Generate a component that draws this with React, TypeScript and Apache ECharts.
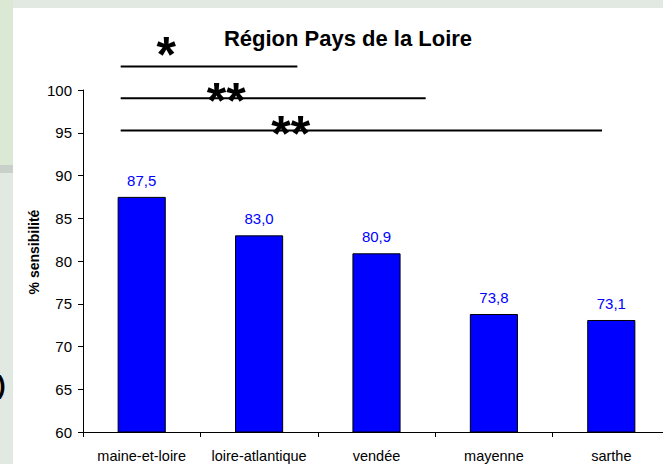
import React, { useEffect, useRef } from "react";
import * as echarts from "echarts";

const categories = ["maine-et-loire", "loire-atlantique", "vendée", "mayenne", "sarthe"];
const sensibilite = [87.5, 83.0, 80.9, 73.8, 73.1];

const yTicks = { min: 60, max: 100, interval: 5 };

// significance brackets (positions in category-band units relative to first category centre)
const sigLevel = [102.74, 99.04, 95.25];
const sigStart = [-0.179, -0.179, -0.179];
const sigEnd = [1.326, 2.419, 3.921];
const sigLabel = ["*", "**", "**"];
const sigLabelPos = [0.209, 0.72, 1.269];
const sigLabelLevel = [104.1, 98.7, 94.85];

const fmt = (v: number) => v.toFixed(1).replace(".", ",");

export default function App() {
  const ref = useRef<HTMLDivElement>(null);
  useEffect(() => {
    if (!ref.current) return;
    const chart = echarts.init(ref.current, null, { renderer: "svg" });
    const font = "'Liberation Sans', Arial, sans-serif";
    chart.setOption({
      animation: false,
      backgroundColor: "#e2e9e2",
      textStyle: { fontFamily: font },
      graphic: [
        { type: "rect", z: -10, shape: { x: 0, y: 0, width: 13, height: 165 }, style: { fill: "#dbe8d3" } },
        { type: "rect", z: -10, shape: { x: 0, y: 165, width: 13, height: 8 }, style: { fill: "#c9cfc9" } },
        { type: "rect", z: -10, shape: { x: 13, y: 8, width: 650, height: 456 }, style: { fill: "#ffffff" } },
        { type: "text", z: 10, x: -3, y: 385, style: { text: ")", font: `bold 26px ${font}`, fill: "#000", textVerticalAlign: "middle" } },
        {
          type: "text", z: 10, x: 348, y: 38,
          style: { text: "Région Pays de la Loire", font: `bold 22px ${font}`, fill: "#000", textAlign: "center", textVerticalAlign: "middle" },
        },
        {
          type: "text", z: 10, x: 34, y: 252, rotation: Math.PI / 2,
          style: { text: "% sensibilité", font: `bold 14px ${font}`, fill: "#000", textAlign: "center", textVerticalAlign: "middle" },
        },
      ],
      grid: { left: 83, width: 587, top: 90, height: 342, containLabel: false, outerBoundsMode: "none" },
      xAxis: {
        type: "category",
        data: categories,
        boundaryGap: true,
        axisLine: { show: true, lineStyle: { color: "#000", width: 1 } },
        axisTick: { show: true, alignWithLabel: false, length: 5, lineStyle: { color: "#000" } },
        axisLabel: { color: "#000", fontSize: 14.5, fontFamily: font, margin: 16, interval: 0 },
        splitLine: { show: false },
      },
      yAxis: {
        type: "value",
        min: yTicks.min,
        max: yTicks.max,
        interval: yTicks.interval,
        axisLine: { show: true, lineStyle: { color: "#000", width: 1 } },
        axisTick: { show: true, length: 5, inside: false, lineStyle: { color: "#000" } },
        axisLabel: { color: "#000", fontSize: 15, fontFamily: font, margin: 11 },
        splitLine: { show: false },
      },
      series: [
        {
          type: "bar",
          data: sensibilite,
          barWidth: "41%",
          itemStyle: { color: "#0000ff", borderColor: "#000", borderWidth: 1 },
          label: {
            show: true,
            position: "top",
            distance: 9,
            color: "#0000ff",
            fontSize: 15,
            fontFamily: font,
            formatter: (p: any) => fmt(p.value),
          },
        },
        {
          type: "custom",
          clip: false,
          z: 5,
          data: sigLevel.map((v) => [0, v]),
          renderItem: (params: any, api: any) => {
            const i = params.dataIndex;
            const band = api.size([1, 0])[0];
            const c = api.coord([0, sigLevel[i]]);
            const s = api.coord([0, sigLabelLevel[i]]);
            return {
              type: "group",
              children: [
                {
                  type: "line",
                  shape: { x1: c[0] + sigStart[i] * band, y1: c[1], x2: c[0] + sigEnd[i] * band, y2: c[1] },
                  style: { stroke: "#000", lineWidth: 2 },
                },
                {
                  type: "text",
                  x: c[0] + sigLabelPos[i] * band,
                  y: s[1],
                  style: {
                    text: sigLabel[i],
                    font: `bold 50px ${font}`,
                    fill: "#000",
                    textAlign: "center",
                    textVerticalAlign: "middle",
                  },
                },
              ],
            };
          },
        },
      ],
    });
    return () => chart.dispose();
  }, []);
  return <div ref={ref} style={{ position: "fixed", left: 0, top: 0, width: 663, height: 464 }} />;
}
